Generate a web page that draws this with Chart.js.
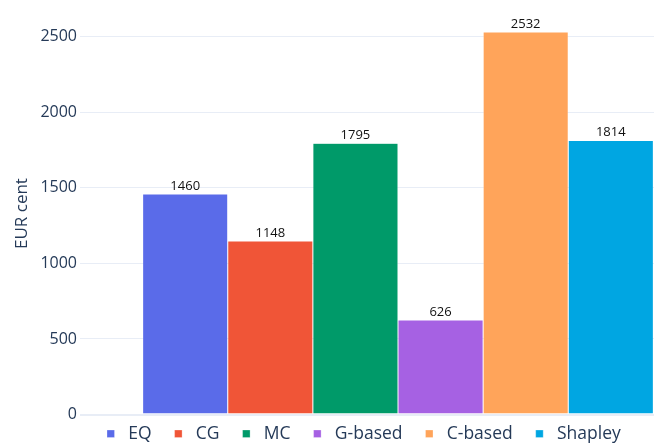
<!DOCTYPE html>
<html>
<head>
<meta charset="utf-8">
<script src="https://cdn.jsdelivr.net/npm/chart.js@4/dist/chart.umd.min.js"></script>
<style>
  html, body { margin: 0; padding: 0; background: #fff; overflow: hidden; }
  #clip { width: 654px; height: 446px; overflow: hidden; position: relative; }
  #wrap { width: 716px; height: 460px; position: absolute; left: 0; top: 0; }
</style>
</head>
<body>
<div id="clip"><div id="wrap"><canvas id="c"></canvas></div></div>
<script>
const categories = ['EQ', 'CG', 'MC', 'G-based', 'C-based', 'Shapley'];
const values = [1460, 1148, 1795, 626, 2532, 1814];
const colors = ['#5a6be9', '#f05537', '#009a69', '#a661e3', '#ffa45a', '#00a6e2'];
const yTicks = [0, 500, 1000, 1500, 2000, 2500];
const yTitle = 'EUR cent';

const FONT = "'Open Sans', 'Noto Sans', sans-serif";
const TXT = '#253a58';

const datasets = categories.map((name, i) => ({
  label: name,
  data: [values[i]],
  backgroundColor: colors[i],
  borderColor: 'rgba(255,255,255,0.55)',
  borderWidth: 0.5,
  pointStyle: 'rect'
}));

const valueLabels = {
  id: 'valueLabels',
  afterDatasetsDraw(chart) {
    const ctx = chart.ctx;
    ctx.save();
    ctx.font = "13px " + FONT;
    ctx.fillStyle = '#111';
    ctx.textAlign = 'center';
    ctx.textBaseline = 'alphabetic';
    chart.data.datasets.forEach((ds, di) => {
      const meta = chart.getDatasetMeta(di);
      meta.data.forEach((bar, j) => {
        ctx.fillText(String(ds.data[j]), bar.x, bar.y - 4);
      });
    });
    ctx.restore();
  }
};

const legendPos = {
  id: 'legendPos',
  beforeDraw(chart) {
    const lg = chart.legend;
    if (!lg) return;
    const dy = 407 - lg.top;
    lg.top += dy; lg.bottom += dy;
    const dx = 84 - lg.left;
    lg.left += dx; lg.right += dx;
  }
};

new Chart(document.getElementById('c'), {
  type: 'bar',
  data: { labels: [''], datasets },
  options: {
    responsive: true,
    maintainAspectRatio: false,
    animation: false,
    layout: { padding: { top: 12.3, left: 0, right: 0, bottom: 0 } },
    datasets: { bar: { categoryPercentage: 0.803, barPercentage: 1.0 } },
    scales: {
      x: { display: false },
      y: {
        min: 0,
        max: 2660,
        border: { display: false },
        grid: {
          color: '#e8edf6',
          drawTicks: false,
          lineWidth: (c) => (c.tick && c.tick.value === 0 ? 2 : 1)
        },
        afterBuildTicks(scale) { scale.ticks = yTicks.map(v => ({ value: v })); },
        afterFit(scale) { scale.width = 80; },
        ticks: {
          color: TXT,
          padding: 3,
          font: { family: FONT, size: 16 },
          callback: (v) => String(v)
        },
        title: {
          display: true,
          text: yTitle,
          color: TXT,
          font: { family: FONT, size: 17 },
          padding: { top: 12, bottom: 0 }
        }
      }
    },
    plugins: {
      tooltip: { enabled: false },
      legend: {
        position: 'bottom',
        align: 'start',
        labels: {
          usePointStyle: true,
          pointStyle: 'rect',
          boxHeight: 7.5,
          boxWidth: 17.5,
          padding: 18,
          color: TXT,
          font: { family: FONT, size: 17.5 }
        }
      }
    }
  },
  plugins: [valueLabels, legendPos]
});
</script>
</body>
</html>
